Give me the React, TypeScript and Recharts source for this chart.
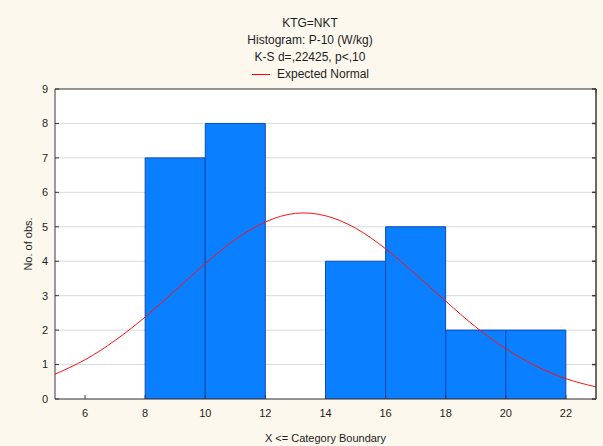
import React from 'react';
import { ComposedChart, Bar, Line, XAxis, YAxis, CartesianGrid } from 'recharts';

// histogram bins (centre of each 2-unit class) and their counts
const binCenters = [9, 11, 13, 15, 17, 19, 21];
const binCounts = [7, 8, 0, 4, 5, 2, 2];

// expected normal curve
const curveX = [5, 6, 7, 8, 9, 10, 11, 12, 13, 14, 15, 16, 17, 18, 19, 20, 21, 22, 23];
const curveY = [0.72, 1.14, 1.7, 2.38, 3.15, 3.93, 4.63, 5.14, 5.39, 5.32, 4.96, 4.36, 3.62, 2.84, 2.09, 1.46, 0.96, 0.59, 0.35];

const xTicks = [6, 8, 10, 12, 14, 16, 18, 20, 22];
const yTicks = [0, 1, 2, 3, 4, 5, 6, 7, 8, 9];

const titleLines = ['KTG=NKT', 'Histogram: P-10 (W/kg)', 'K-S d=,22425, p<,10'];

const FONT = '"Liberation Sans", Arial, sans-serif';
const BG = '#fcf8ed';
const AXIS = '#3a3a3a';
const TXT = '#1e1e1e';

const bins = binCenters.map((x, i) => ({ x, count: binCounts[i] }));
const curve = curveX.map((x, i) => ({ x, expected: curveY[i] }));

const tickStyle = { fontSize: 11, fill: TXT, fontFamily: FONT };

export default function App() {
  return (
    <div style={{ position: 'relative', width: 603, height: 446, background: BG, fontFamily: FONT }}>
      <style>{'body{margin:0}'}</style>

      {/* title block */}
      <div style={{ position: 'absolute', left: 0, top: 15, width: 620, textAlign: 'center', fontSize: 12, color: TXT, lineHeight: '17px' }}>
        {titleLines.map((t) => (
          <div key={t}>{t}</div>
        ))}
      </div>

      {/* legend */}
      <div style={{ position: 'absolute', left: 252, top: 67, display: 'flex', alignItems: 'center', fontSize: 12, color: TXT }}>
        <span style={{ width: 18, height: 0, borderTop: '1px solid #ff0000', marginRight: 7 }} />
        <span>Expected Normal</span>
      </div>

      <ComposedChart
        width={603}
        height={446}
        data={bins}
        margin={{ top: 88, right: 6, bottom: 0, left: 0 }}
        style={{ position: 'absolute', left: 0, top: 0 }}
      >
        <CartesianGrid vertical={false} stroke="#dadada" fill="#ffffff" />

        <XAxis
          dataKey="x"
          type="number"
          domain={[5, 23]}
          ticks={xTicks}
          allowDataOverflow
          height={47}
          tickSize={-4}
          tickMargin={14}
          tick={tickStyle}
          stroke={AXIS}
          tickLine={{ stroke: AXIS }}
          label={{ value: 'X <= Category Boundary', position: 'insideBottom', offset: 4, fontSize: 11, fill: TXT, fontFamily: FONT }}
        />
        <XAxis
          xAxisId="curve"
          dataKey="x"
          type="number"
          domain={[5, 23]}
          allowDataOverflow
          hide
        />
        <XAxis
          xAxisId="top"
          orientation="top"
          type="number"
          domain={[5, 23]}
          ticks={xTicks}
          allowDataOverflow
          height={1}
          tickSize={-4}
          tickFormatter={() => ''}
          stroke={AXIS}
          tickLine={{ stroke: AXIS }}
        />

        <YAxis
          type="number"
          domain={[0, 9]}
          ticks={yTicks}
          allowDataOverflow
          width={55}
          tickSize={-4}
          tickMargin={11}
          tick={tickStyle}
          stroke={AXIS}
          tickLine={{ stroke: AXIS }}
          label={{
            content: ({ viewBox }: any) => {
              const cx = viewBox.x + 28;
              const cy = viewBox.y + viewBox.height / 2;
              return (
                <text
                  x={cx}
                  y={cy}
                  transform={`rotate(-90 ${cx} ${cy})`}
                  textAnchor="middle"
                  dominantBaseline="central"
                  fontSize={11}
                  fill={TXT}
                  fontFamily={FONT}
                >
                  No. of obs.
                </text>
              );
            },
          }}
        />
        <YAxis
          yAxisId="right"
          orientation="right"
          type="number"
          domain={[0, 9]}
          ticks={yTicks}
          allowDataOverflow
          width={1}
          tickSize={-4}
          tickFormatter={() => ''}
          stroke={AXIS}
          strokeWidth={1.5}
          tickLine={{ stroke: AXIS }}
        />

        <Bar dataKey="count" fill="#0a7fff" stroke="#0b4cb5" strokeWidth={1} barSize={60} isAnimationActive={false} />
        <Line
          xAxisId="curve"
          data={curve}
          dataKey="expected"
          type="natural"
          stroke="#ff1010"
          strokeWidth={1}
          dot={false}
          isAnimationActive={false}
        />
      </ComposedChart>
    </div>
  );
}
